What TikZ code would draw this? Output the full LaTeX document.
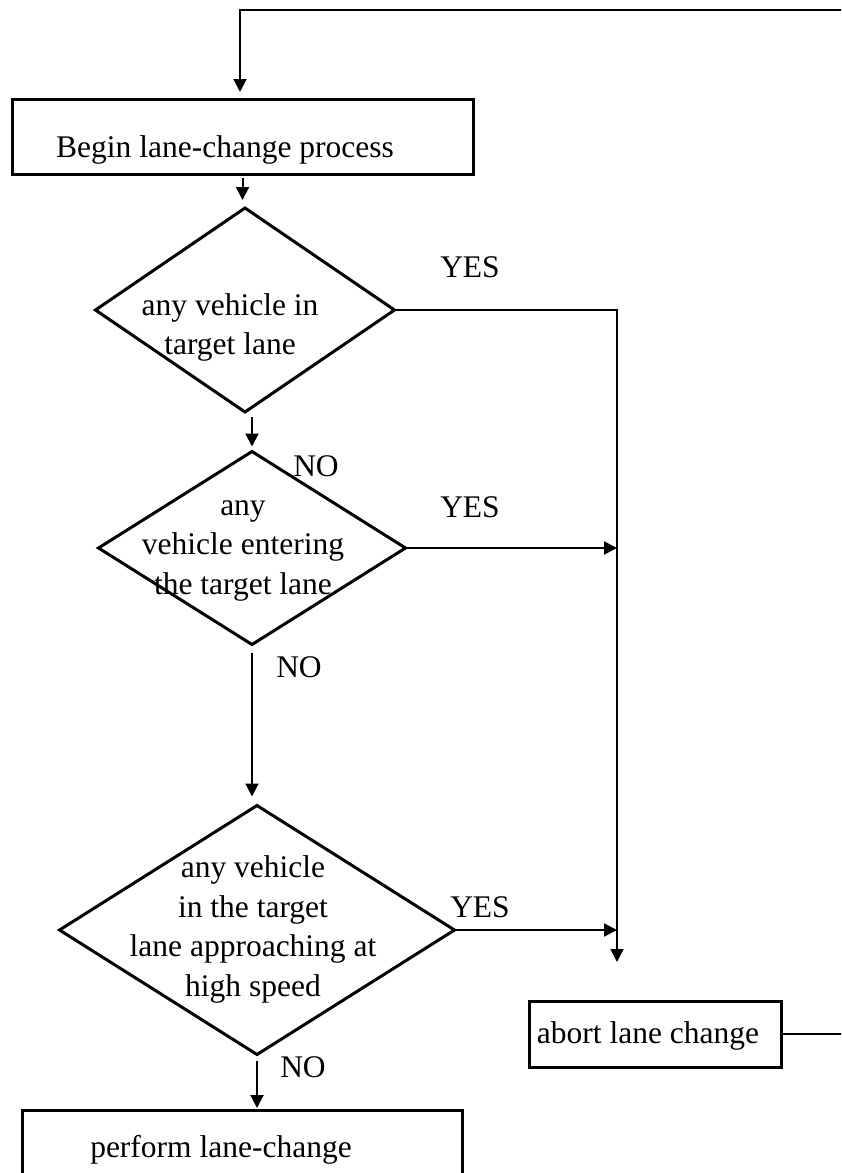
\documentclass[tikz,border=0pt]{standalone}
\usepackage{fontspec}
\setmainfont{Liberation Serif}
\usetikzlibrary{arrows.meta,shapes.geometric}
\begin{document}
\begin{tikzpicture}[x=1pt,y=-1pt,
  every node/.style={font=\fontsize{31.5}{39.5}\selectfont, inner sep=0pt, outer sep=0pt},
  boxshape/.style={draw, line width=3pt, rectangle},
  decision/.style={draw, diamond, line width=3pt},
  conn/.style={line width=2pt},
  arr/.style={conn, -{Triangle[length=13pt,width=13pt]}},
  lbl/.style={anchor=base}]
\useasboundingbox (0,0) rectangle (841,1173);
\clip (0,0) rectangle (841,1173);

% boxes
\node[boxshape, minimum width=461pt, minimum height=75pt] (begin) at (242.5,136.5) {};
\node[lbl] (begintxt) at (225,157) {Begin lane-change process};

\node[boxshape, minimum width=252pt, minimum height=66pt] (abort) at (655,1034) {};
\node[lbl] (aborttxt) at (648,1043) {abort lane change};

\node[boxshape, minimum width=440pt, minimum height=90pt] (perform) at (242,1155) {};
\node[lbl] (performtxt) at (221,1157) {perform lane-change};

% decisions
\node[decision, minimum width=299pt, minimum height=204pt] (d1) at (245,310) {};
\node[align=center] (d1txt) at (230,327) {\strut any vehicle in\\\strut target lane};

\node[decision, minimum width=307pt, minimum height=193pt] (d2) at (252,548) {};
\node[align=center] (d2txt) at (243,547) {\strut any\\\strut vehicle entering\\\strut the target lane};

\node[decision, minimum width=395pt, minimum height=249pt] (d3) at (257,930) {};
\node[align=center] (d3txt) at (253,929) {\strut any vehicle\\\strut in the target\\\strut lane approaching at\\\strut high speed};

% labels
\node[lbl] (yes1) at (470,277) {YES};
\node[lbl] (yes2) at (470,517) {YES};
\node[lbl] (yes3) at (480,917) {YES};
\node[lbl] (no1) at (316,476) {NO};
\node[lbl] (no2) at (299,677) {NO};
\node[lbl] (no3) at (303,1077) {NO};

% coordinates
\coordinate (loopR) at (880,10);
\coordinate (loopL) at (240,10);
\coordinate (abortin) at (617,962);

% connectors
\draw[arr, shorten >=7pt] (abort.east) -- (loopR |- abort.east) -- (loopR) -- (loopL) -- (loopL |- begin.north);
\draw[arr, shorten <=4pt, shorten >=8pt] (begin.south) -- (begin.south |- d1.north);
\draw[arr, shorten <=5pt, shorten >=5pt] (d2.north |- d1.south) -- (d2.north);
\draw[arr, shorten <=8pt, shorten >=9pt] (d2.south) -- (d2.south |- d3.north);
\draw[arr, shorten <=6pt, shorten >=2pt] (d3.south) -- (d3.south |- perform.north);

\draw[arr, line width=1.8pt] (d1.east) -| (abortin);
\draw[arr] (d2.east) -- (d2.east -| abortin);
\draw[arr] (d3.east) -- (d3.east -| abortin);
\end{tikzpicture}
\end{document}
